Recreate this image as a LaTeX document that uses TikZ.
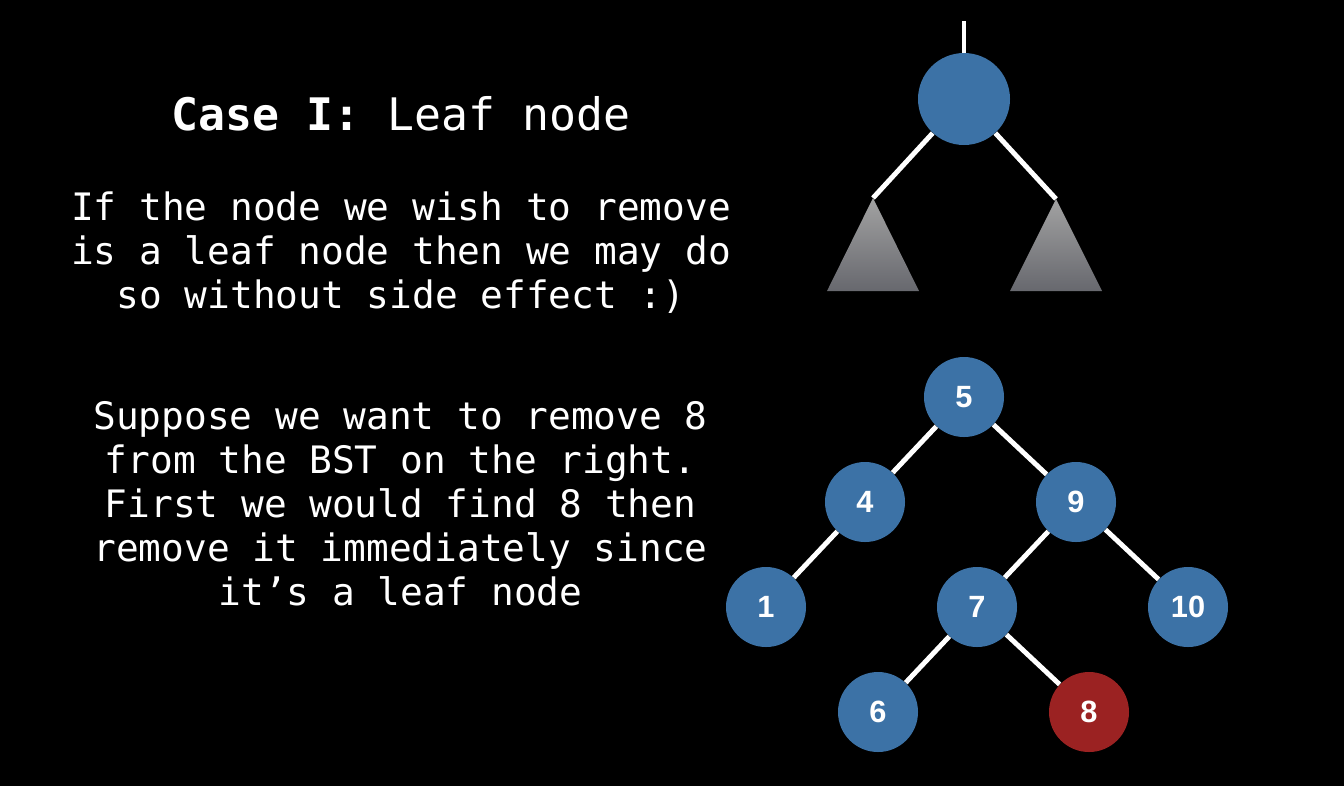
\documentclass[tikz,border=0pt]{standalone}
\usepackage{fontspec}
\usepackage{xcolor}
\setmonofont{DejaVu Sans Mono}
\newfontfamily\numfont{Liberation Sans}
\usepackage{tikz}
\usetikzlibrary{positioning}
\definecolor{nodeblue}{HTML}{3C72A6}
\definecolor{nodered}{HTML}{9B2222}
\definecolor{treetop}{HTML}{A2A2A2}
\definecolor{treebot}{HTML}{67686E}
\tikzset{%
	vertex/.style   = {circle, fill=nodeblue, inner sep=0pt, minimum size=1.6cm, text=white, font=\numfont\bfseries\fontsize{17.5}{20}\selectfont}, % BST node
	target/.style   = {vertex, fill=nodered}, % node to remove
	link/.style     = {draw=white, line width=2.8pt}, % Edge
	subtree/.style  = {top color=treetop, bottom color=treebot}, % Subtree
	title/.style    = {text=white, font=\ttfamily\fontsize{25.5}{30}\selectfont, inner sep=0pt},
	para/.style     = {text=white, align=center, font=\ttfamily\fontsize{21.5}{25}\selectfont, inner sep=0pt},
}
\begin{document}
\begin{tikzpicture}[on grid]
	\fill[black] (0,0) rectangle (26.88,-15.72);
	\useasboundingbox (0,0) rectangle (26.88,-15.72);
	
	\node[title, anchor=base] (case) at (8.02,-2.60) {\textbf{Case I:} Leaf node};
	\node[para, anchor=base] (rule) at (8.02,-6.16) {If the node we wish to remove\\is a leaf node then we may do\\so without side effect :)};
	\node[para, anchor=base] (ex) at (8.01,-12.10) {Suppose we want to remove 8\\from the BST on the right.\\First we would find 8 then\\remove it immediately since\\it’s a leaf node};
	
	% generic case
	\coordinate (up) at (19.28,-0.42);
	\node[vertex, minimum size=1.84cm] (top) at (19.28,-1.98) {};
	\coordinate (lt) at (17.46,-3.96);
	\coordinate (rt) at (21.12,-3.98);
	\draw[link] (up) -- (top);
	\draw[link] (top) -- (lt);
	\draw[link] (top) -- (rt);
	\shade[subtree] (lt) -- ++(-0.92,-1.86) -- ++(1.84,0) -- cycle;
	\shade[subtree] (rt) -- ++(-0.92,-1.84) -- ++(1.84,0) -- cycle;
	
	% example BST
	\node[vertex] (n5) at (19.28,-7.94) {5};
	\node[vertex, below left=2.1cm and 1.98cm of n5] (n4) {4};
	\node[vertex, below right=2.1cm and 2.24cm of n5] (n9) {9};
	\node[vertex, below left=2.1cm and 1.98cm of n4] (n1) {1};
	\node[vertex, below left=2.1cm and 1.98cm of n9] (n7) {7};
	\node[vertex, below right=2.1cm and 2.24cm of n9] (n10) {10};
	\node[vertex, below left=2.1cm and 1.98cm of n7] (n6) {6};
	\node[target, below right=2.1cm and 2.24cm of n7] (n8) {8};
	\draw[link] (n5) -- (n4);
	\draw[link] (n5) -- (n9);
	\draw[link] (n4) -- (n1);
	\draw[link] (n9) -- (n7);
	\draw[link] (n9) -- (n10);
	\draw[link] (n7) -- (n6);
	\draw[link] (n7) -- (n8);
\end{tikzpicture}
\end{document}
